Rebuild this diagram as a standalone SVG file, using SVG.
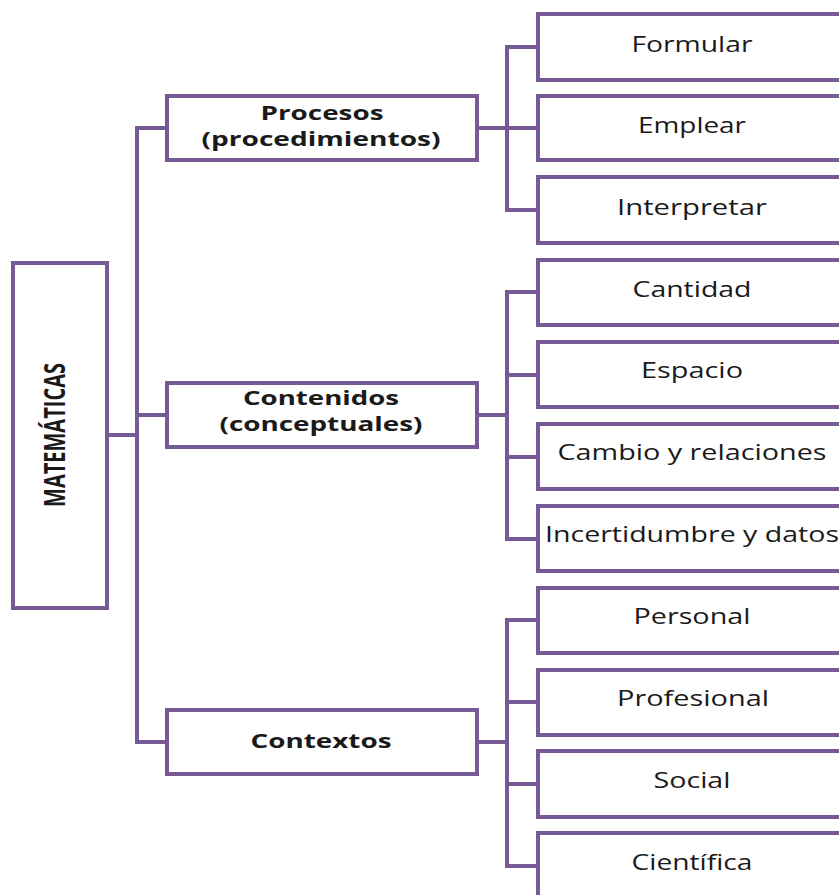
<svg xmlns="http://www.w3.org/2000/svg" width="839" height="895" viewBox="0 0 839 895">
<style>
.box{fill:#fff;stroke:#765a96;stroke-width:4}
.ln{fill:none;stroke:#765a96;stroke-width:4;stroke-linecap:square}
.t{font-family:"Open Sans","Liberation Sans",sans-serif;font-size:21px;fill:#1a1a1a;text-anchor:middle}
.b{font-family:"Open Sans","Liberation Sans",sans-serif;font-weight:bold;font-size:19px;fill:#1a1a1a;text-anchor:middle}
</style>
<rect width="839" height="895" fill="#fff"/>
<g id="connectors">
<path class="ln" d="M107 435H137M137 128V742M137 128H167M137 415H167M137 742H167"/>
<path class="ln" d="M477 128H507M507 47V210M507 47H538M507 128H538M507 210H538"/>
<path class="ln" d="M477 415H507M507 292V539M507 292H538M507 375H538M507 457H538M507 539H538"/>
<path class="ln" d="M477 742H507M507 620V866M507 620H538M507 702H538M507 784H538M507 866H538"/>
</g>
<g id="matematicas"><rect class="box" x="13" y="263" width="94" height="345"/>
<text class="b" transform="translate(65 435) rotate(-90)" style="font-size:28px" textLength="144" lengthAdjust="spacingAndGlyphs">MATEMÁTICAS</text></g>
<g id="procesos"><rect class="box" x="167" y="96" width="310" height="64"/>
<text class="b" x="322" y="120" textLength="123" lengthAdjust="spacingAndGlyphs">Procesos</text>
<text class="b" x="321" y="146" textLength="239" lengthAdjust="spacingAndGlyphs">(procedimientos)</text></g>
<g id="contenidos"><rect class="box" x="167" y="383" width="310" height="64"/>
<text class="b" x="321" y="405" textLength="156" lengthAdjust="spacingAndGlyphs">Contenidos</text>
<text class="b" x="321" y="431" textLength="203" lengthAdjust="spacingAndGlyphs">(conceptuales)</text></g>
<g id="contextos"><rect class="box" x="167" y="710" width="310" height="64"/>
<text class="b" x="321" y="748" style="font-size:20px" textLength="141" lengthAdjust="spacingAndGlyphs">Contextos</text></g>
<g id="formular"><rect class="box" x="538" y="14" width="310" height="66"/><text class="t" x="692" y="52" textLength="121" lengthAdjust="spacingAndGlyphs">Formular</text></g>
<g id="emplear"><rect class="box" x="538" y="96" width="310" height="64"/><text class="t" x="692" y="133" textLength="108" lengthAdjust="spacingAndGlyphs">Emplear</text></g>
<g id="interpretar"><rect class="box" x="538" y="177" width="310" height="66"/><text class="t" x="692" y="215" textLength="150" lengthAdjust="spacingAndGlyphs">Interpretar</text></g>
<g id="cantidad"><rect class="box" x="538" y="260" width="310" height="65"/><text class="t" x="692" y="297" textLength="119" lengthAdjust="spacingAndGlyphs">Cantidad</text></g>
<g id="espacio"><rect class="box" x="538" y="342" width="310" height="65"/><text class="t" x="692" y="378" textLength="102" lengthAdjust="spacingAndGlyphs">Espacio</text></g>
<g id="cambio"><rect class="box" x="538" y="424" width="310" height="65"/><text class="t" x="692" y="460" textLength="269" lengthAdjust="spacingAndGlyphs">Cambio y relaciones</text></g>
<g id="incertidumbre"><rect class="box" x="538" y="506" width="310" height="65"/><text class="t" x="692" y="542" textLength="294" lengthAdjust="spacingAndGlyphs">Incertidumbre y datos</text></g>
<g id="personal"><rect class="box" x="538" y="588" width="310" height="65"/><text class="t" x="692" y="624" textLength="117" lengthAdjust="spacingAndGlyphs">Personal</text></g>
<g id="profesional"><rect class="box" x="538" y="670" width="310" height="65"/><text class="t" x="693" y="706" textLength="152" lengthAdjust="spacingAndGlyphs">Profesional</text></g>
<g id="social"><rect class="box" x="538" y="751" width="310" height="66"/><text class="t" x="692" y="788" textLength="77" lengthAdjust="spacingAndGlyphs">Social</text></g>
<g id="cientifica"><rect class="box" x="538" y="833" width="310" height="70"/><text class="t" x="692" y="870" textLength="121" lengthAdjust="spacingAndGlyphs">Científica</text></g>
</svg>
